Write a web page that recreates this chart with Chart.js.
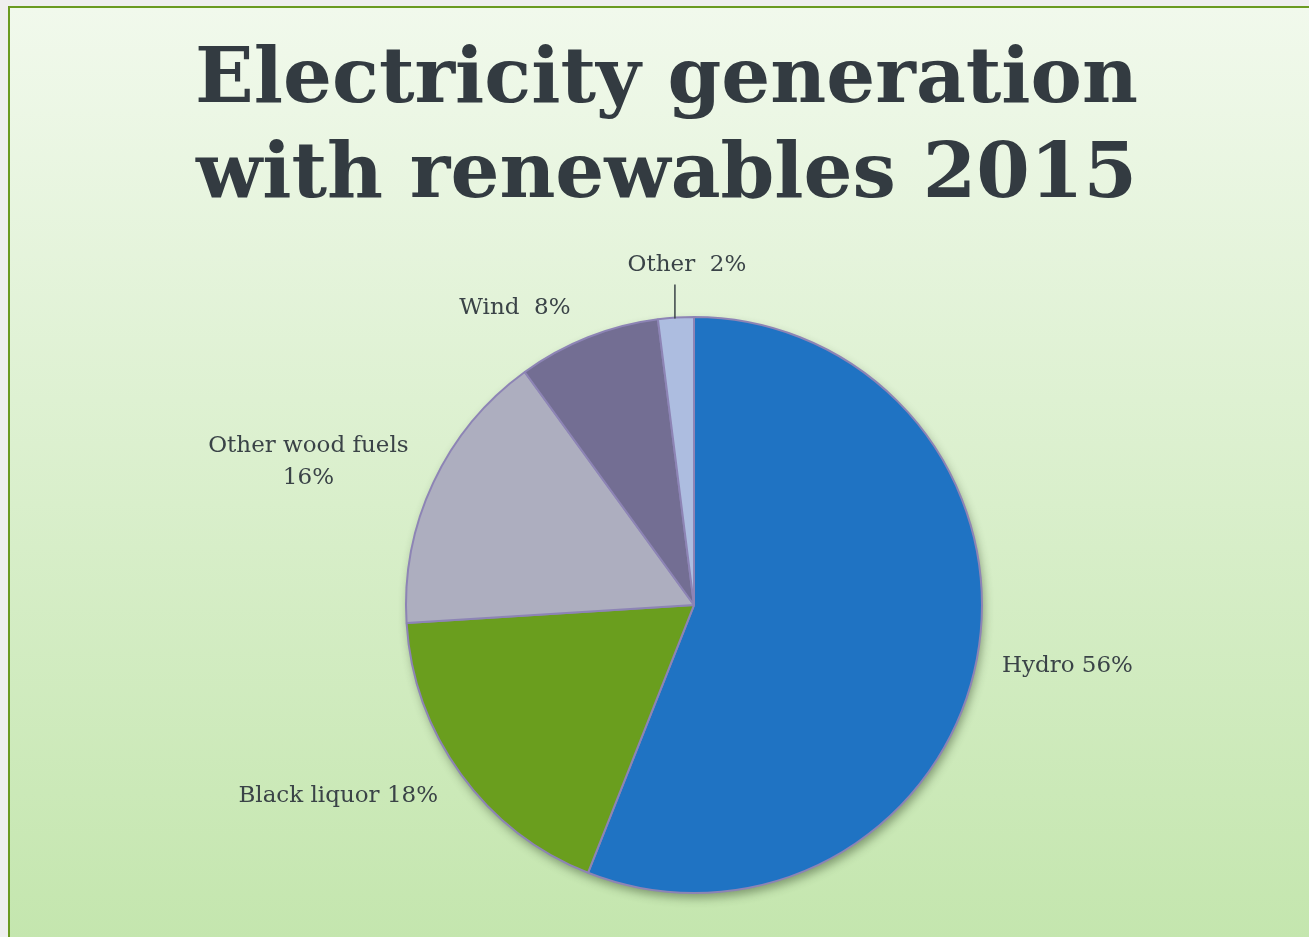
<!DOCTYPE html>
<html>
<head>
<meta charset="utf-8">
<title>Electricity generation with renewables 2015</title>
<script src="https://cdn.jsdelivr.net/npm/chart.js@4.4.1/dist/chart.umd.min.js"></script>
<style>
  html, body { margin: 0; padding: 0; background: #efefef; overflow: hidden; }
  #panel {
    position: absolute; left: 8px; top: 6px; width: 1400px; height: 1000px;
    border-left: 2px solid #6b9a22; border-top: 2px solid #6b9a22;
    background: linear-gradient(to bottom, #f1f9ec 0px, #c4e6ae 931px);
  }
  #wrap { position: absolute; left: 0; top: 0; width: 1309px; height: 937px; }
</style>
</head>
<body>
<div id="panel"></div>
<div id="wrap"><canvas id="chart" width="1309" height="937"></canvas></div>
<script>
// values
const categories = ['Hydro', 'Black liquor', 'Other wood fuels', 'Wind', 'Other'];
const shares = [56, 18, 16, 8, 2];
const sliceLabels = [['Hydro 56%'], ['Black liquor 18%'], ['Other wood fuels', '16%'], ['Wind  8%'], ['Other  2%']];
const sliceColors = ['#1f73c3', '#6a9e1e', '#adaebf', '#736e93', '#adbde0'];

// where each label sits relative to the outer edge of its slice
const labelPlace = [
  { dx: 25, dy: 7, align: 'left' },
  { dx: -23, dy: 22, align: 'right' },
  { dx: -125, dy: -20, align: 'center' },
  { dx: -73, dy: -29, align: 'center' },
  { dx: 11, dy: -53, align: 'center', leader: true }
];

// the title is centred a little left of the pie in the original
const titleShift = {
  id: 'titleShift',
  afterLayout(chart) {
    if (chart.titleBlock) chart.titleBlock.left = 24;
  }
};

const pieShadow = {
  id: 'pieShadow',
  beforeDatasetsDraw(chart) {
    const arc = chart.getDatasetMeta(0).data[0];
    if (!arc) return;
    const ctx = chart.ctx;
    ctx.save();
    ctx.shadowColor = 'rgba(40,60,30,0.45)';
    ctx.shadowBlur = 10;
    ctx.shadowOffsetX = 2;
    ctx.shadowOffsetY = 5;
    ctx.fillStyle = '#8d84b5';
    ctx.beginPath();
    ctx.arc(arc.x, arc.y, arc.outerRadius, 0, Math.PI * 2);
    ctx.fill();
    ctx.restore();
  }
};

const sliceText = {
  id: 'sliceText',
  afterDatasetsDraw(chart) {
    const ctx = chart.ctx;
    const arcs = chart.getDatasetMeta(0).data;
    ctx.save();
    ctx.font = '23px "DejaVu Serif", Georgia, serif';
    ctx.fillStyle = '#3a4347';
    ctx.textBaseline = 'middle';
    arcs.forEach((arc, i) => {
      const mid = (arc.startAngle + arc.endAngle) / 2;
      const ex = arc.x + Math.cos(mid) * arc.outerRadius;
      const ey = arc.y + Math.sin(mid) * arc.outerRadius;
      const p = labelPlace[i];
      const lines = sliceLabels[i];
      const lh = 32;
      const y0 = ey + p.dy - (lines.length - 1) * lh / 2;
      ctx.textAlign = p.align;
      lines.forEach((t, k) => ctx.fillText(t, ex + p.dx, y0 + k * lh));
      if (p.leader) {
        ctx.strokeStyle = '#3a4347';
        ctx.lineWidth = 1.5;
        ctx.beginPath();
        ctx.moveTo(ex - 1, ey + 1);
        ctx.lineTo(ex - 1, ey + p.dy + 20);
        ctx.stroke();
      }
    });
    ctx.restore();
  }
};

new Chart(document.getElementById('chart'), {
  type: 'pie',
  data: {
    labels: categories,
    datasets: [{
      data: shares,
      backgroundColor: sliceColors,
      borderColor: '#8d84b5',
      borderWidth: 2
    }]
  },
  options: {
    responsive: false,
    animation: false,
    layout: { padding: { top: 20, bottom: 43, left: 79, right: 0 } },
    plugins: {
      legend: { display: false },
      tooltip: { enabled: false },
      title: {
        display: true,
        text: ['Electricity generation', 'with renewables 2015'],
        color: '#333b41',
        font: { family: '"DejaVu Serif", Georgia, serif', size: 77, weight: 'bold', lineHeight: 1.234 },
        padding: { top: 14, bottom: 92 }
      }
    }
  },
  plugins: [titleShift, pieShadow, sliceText]
});
</script>
</body>
</html>
